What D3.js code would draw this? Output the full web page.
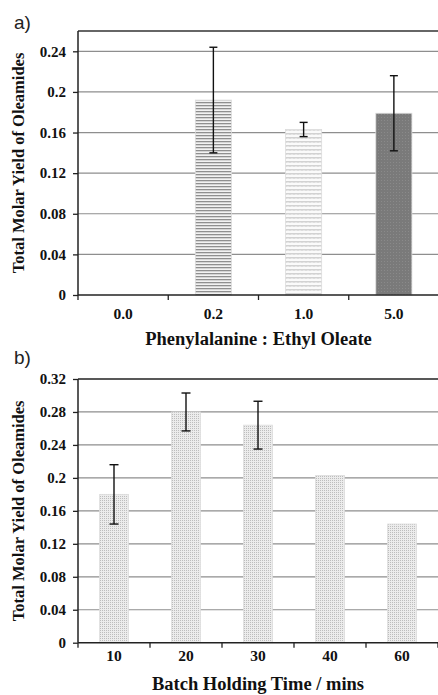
<!DOCTYPE html>
<html>
<head>
<meta charset="utf-8">
<script src="https://cdn.jsdelivr.net/npm/d3@7"></script>
<style>
  body { margin: 0; background: #fff; }
  svg { display: block; }
</style>
</head>
<body>
<script>
// panel a)
const catsA = ["0.0", "0.2", "1.0", "5.0"];
const valsA = [0, 0.192, 0.163, 0.179];
const errA = [0, 0.052, 0.007, 0.037];
const ticksA = [0, 0.04, 0.08, 0.12, 0.16, 0.2, 0.24];
const fillsA = ["none", "url(#hstripe)", "url(#zigzag)", "url(#dark)"];

// panel b)
const catsB = ["10", "20", "30", "40", "60"];
const valsB = [0.18, 0.28, 0.264, 0.203, 0.144];
const errB = [0.036, 0.023, 0.029, 0, 0];
const ticksB = [0, 0.04, 0.08, 0.12, 0.16, 0.2, 0.24, 0.28, 0.32];

const width = 438
const height = 695

const svg = d3.select("body").append("svg")
  .attr("width", width)
  .attr("height", height)

const defs = svg.append("defs")

// horizontal stripes
const hs = defs.append("pattern").attr("id", "hstripe")
  .attr("patternUnits", "userSpaceOnUse").attr("width", 4).attr("height", 3)
hs.append("rect").attr("width", 4).attr("height", 3).attr("fill", "#f2f2f2")
hs.append("rect").attr("width", 4).attr("height", 1.3).attr("fill", "#8f8f8f")

// zigzag
const zz = defs.append("pattern").attr("id", "zigzag")
  .attr("patternUnits", "userSpaceOnUse").attr("width", 4).attr("height", 4)
zz.append("rect").attr("width", 4).attr("height", 4).attr("fill", "#fafafa")
zz.append("path").attr("d", "M0,2.6 L1,1.2 L2,2.6 L3,1.2 L4,2.6")
  .attr("stroke", "#b4b4b4").attr("stroke-width", 0.8).attr("fill", "none")

// dark dotted
const dk = defs.append("pattern").attr("id", "dark")
  .attr("patternUnits", "userSpaceOnUse").attr("width", 3).attr("height", 3)
dk.append("rect").attr("width", 3).attr("height", 3).attr("fill", "#7a7a7a")
dk.append("rect").attr("width", 1).attr("height", 1).attr("fill", "#8a8a8a")

// light dotted
const lt = defs.append("pattern").attr("id", "light")
  .attr("patternUnits", "userSpaceOnUse").attr("width", 2).attr("height", 2)
lt.append("rect").attr("width", 2).attr("height", 2).attr("fill", "#ececec")
lt.append("rect").attr("width", 1).attr("height", 1).attr("fill", "#bdbdbd")

function panel(opts) {
  const {cats, vals, errs, ticks, fills, top, bottom, left, right, ymax, label, labelY, xTitle, tickLabelY, titleY, cap} = opts

  const x = d3.scaleBand().domain(cats).range([left, right]).paddingInner(0).paddingOuter(0)
  const y = d3.scaleLinear().domain([0, ymax]).range([bottom, top])
  const g = svg.append("g")

  // grid lines
  g.selectAll(".grid").data(ticks.filter(t => t > 0)).enter()
    .append("line")
    .attr("x1", left).attr("x2", width)
    .attr("y1", d => y(d)).attr("y2", d => y(d))
    .attr("stroke", "#8e8e8e").attr("stroke-width", 1.2)

  // top border
  g.append("line").attr("x1", left).attr("x2", width)
    .attr("y1", top).attr("y2", top)
    .attr("stroke", "#333").attr("stroke-width", 1.3)

  // bars
  const bw = x.bandwidth() * 0.4
  g.selectAll(".bar").data(cats).enter()
    .append("rect")
    .attr("x", d => x(d) + (x.bandwidth() - bw) / 2)
    .attr("y", (d, i) => y(vals[i]))
    .attr("width", bw)
    .attr("height", (d, i) => y(0) - y(vals[i]))
    .attr("fill", (d, i) => fills[i])
    .attr("stroke", (d, i) => vals[i] > 0 ? "#dcdcdc" : "none")
    .attr("stroke-width", 0.8)

  // error bars
  const eb = g.selectAll(".err").data(cats.map((c, i) => ({c, v: vals[i], e: errs[i]})).filter(d => d.e > 0))
    .enter().append("g")
  eb.append("line")
    .attr("x1", d => x(d.c) + x.bandwidth() / 2).attr("x2", d => x(d.c) + x.bandwidth() / 2)
    .attr("y1", d => y(d.v + d.e)).attr("y2", d => y(d.v - d.e))
    .attr("stroke", "#111").attr("stroke-width", 1.4)
  eb.append("line")
    .attr("x1", d => x(d.c) + x.bandwidth() / 2 - cap / 2).attr("x2", d => x(d.c) + x.bandwidth() / 2 + cap / 2)
    .attr("y1", d => y(d.v + d.e)).attr("y2", d => y(d.v + d.e))
    .attr("stroke", "#111").attr("stroke-width", 1.4)
  eb.append("line")
    .attr("x1", d => x(d.c) + x.bandwidth() / 2 - cap / 2).attr("x2", d => x(d.c) + x.bandwidth() / 2 + cap / 2)
    .attr("y1", d => y(d.v - d.e)).attr("y2", d => y(d.v - d.e))
    .attr("stroke", "#111").attr("stroke-width", 1.4)

  // y axis
  const yAxis = d3.axisLeft(y).tickValues(ticks).tickSize(5).tickPadding(7)
    .tickFormat(d => d === 0 ? "0" : String(+d.toFixed(2)))
  const ya = g.append("g").attr("transform", "translate(" + left + ",0)").call(yAxis)
  ya.select(".domain").attr("stroke", "#222").attr("stroke-width", 1.5)
    .attr("d", "M0," + top + "V" + bottom)
  ya.selectAll(".tick line").attr("stroke", "#222").attr("stroke-width", 1.3)
  ya.selectAll("text").attr("font-family", "'Liberation Serif', serif")
    .attr("font-weight", "bold").attr("font-size", 15).attr("fill", "#111")

  // x axis baseline + ticks
  g.append("line").attr("x1", left).attr("x2", width)
    .attr("y1", bottom).attr("y2", bottom)
    .attr("stroke", "#222").attr("stroke-width", 1.5)
  const bounds = cats.map(c => x(c)).concat([right])
  g.selectAll(".xt").data(bounds).enter().append("line")
    .attr("x1", d => d).attr("x2", d => d)
    .attr("y1", bottom).attr("y2", bottom + 5)
    .attr("stroke", "#222").attr("stroke-width", 1.3)
  g.selectAll(".xl").data(cats).enter().append("text")
    .attr("x", d => x(d) + x.bandwidth() / 2)
    .attr("y", tickLabelY)
    .attr("text-anchor", "middle")
    .attr("font-family", "'Liberation Serif', serif")
    .attr("font-weight", "bold").attr("font-size", 15.5).attr("fill", "#111")
    .text(d => d)

  // titles
  g.append("text")
    .attr("x", (left + right) / 2).attr("y", titleY)
    .attr("text-anchor", "middle")
    .attr("font-family", "'Liberation Serif', serif")
    .attr("font-weight", "bold").attr("font-size", 18.5).attr("fill", "#111")
    .text(xTitle)

  g.append("text")
    .attr("transform", "translate(24," + ((top + bottom) / 2) + ") rotate(-90)")
    .attr("text-anchor", "middle")
    .attr("font-family", "'Liberation Serif', serif")
    .attr("font-weight", "bold").attr("font-size", 16.5).attr("fill", "#111")
    .text("Total Molar Yield of Oleamides")

  g.append("text")
    .attr("x", 14).attr("y", labelY)
    .attr("font-family", "'Liberation Sans', Arial, sans-serif")
    .attr("font-size", 19).attr("fill", "#222")
    .text(label)
}

panel({cats: catsA, vals: valsA, errs: errA, ticks: ticksA, fills: fillsA,
  top: 31, bottom: 295, left: 78, right: 439, ymax: 0.26, label: "a)", labelY: 29,
  xTitle: "Phenylalanine : Ethyl Oleate", tickLabelY: 319, titleY: 345, cap: 8})

panel({cats: catsB, vals: valsB, errs: errB, ticks: ticksB, fills: catsB.map(() => "url(#light)"),
  top: 379, bottom: 642.7, left: 78, right: 438, ymax: 0.32, label: "b)", labelY: 364,
  xTitle: "Batch Holding Time / mins", tickLabelY: 661, titleY: 690, cap: 9})
</script>
</body>
</html>
